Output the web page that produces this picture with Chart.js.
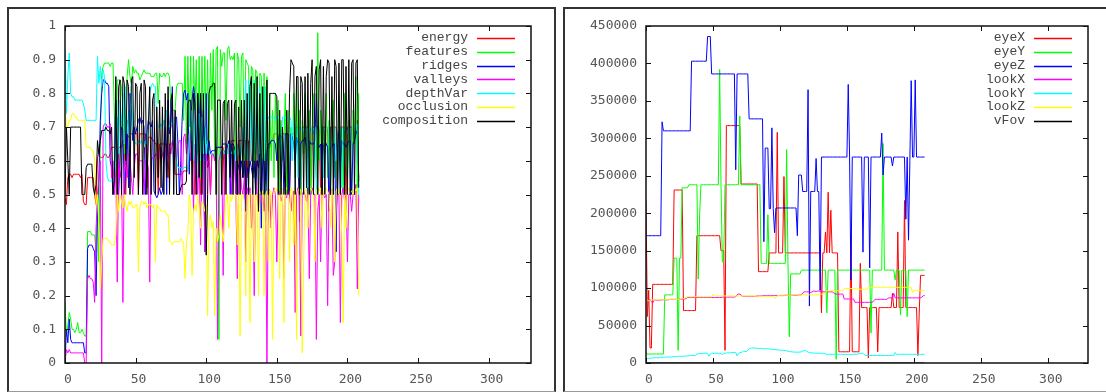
<!DOCTYPE html>
<html>
<head>
<meta charset="utf-8">
<script src="https://cdn.jsdelivr.net/npm/chart.js@4/dist/chart.umd.min.js"></script>
<style>
  html, body { margin: 0; padding: 0; background: #fff; width: 1106px; height: 392px; overflow: hidden; }
  .frame { position: absolute; top: 7px; height: 385px; box-sizing: border-box; border: 2px solid #333; border-bottom: 1px solid #999; }
  #frameL { left: 7px; width: 549px; }
  #frameR { left: 563px; width: 560px; }
  canvas { position: absolute; top: 0; }
  #chartL { left: 0; }
  #chartR { left: 556px; }
</style>
</head>
<body>
<div class="frame" id="frameL"></div>
<div class="frame" id="frameR"></div>
<canvas id="chartL" width="556" height="392"></canvas>
<canvas id="chartR" width="550" height="392"></canvas>
<script>
// left panel: image quality terms
const energy = [0.49,0.47,0.55,0.56,0.56,0.55,0.56,0.56,0.56,0.56,
  0.56,0.55,0.56,0.48,0.47,0.47,0.55,0.55,0.55,0.55,
  0.55,0.5,0.47,0.61,0.62,0.61,0.61,0.61,0.62,0.62,
  0.61,0.61,0.62,0.64,0.64,0.64,0.64,0.5,0.64,0.64,
  0.64,0.66,0.66,0.5,0.67,0.67,0.68,0.68,0.68,0.68,
  0.68,0.68,0.5,0.68,0.68,0.68,0.68,0.68,0.52,0.67,
  0.67,0.67,0.66,0.66,0.65,0.65,0.5,0.65,0.65,0.65,
  0.65,0.65,0.65,0.55,0.65,0.65,0.65,0.65,0.56,0.56,
  0.56,0.56,0.56,0.56,0.57,0.57,0.57,0.57,0.62,0.62,
  0.62,0.62,0.5,0.62,0.63,0.63,0.5,0.63,0.62,0.62,
  0.62,0.62,0.62,0.5,0.62,0.62,0.62,0.62,0.64,0.64,
  0.64,0.64,0.64,0.5,0.64,0.64,0.64,0.64,0.66,0.66,
  0.66,0.66,0.5,0.66,0.66,0.66,0.66,0.66,0.66,0.55,
  0.66,0.66,0.6,0.6,0.6,0.56,0.6,0.6,0.62,0.62,
  0.62,0.62,0.5,0.62,0.64,0.64,0.66,0.66,0.68,0.68,
  0.68,0.68,0.5,0.68,0.68,0.68,0.68,0.68,0.68,0.5,
  0.68,0.68,0.68,0.7,0.7,0.7,0.7,0.5,0.7,0.7,
  0.7,0.7,0.7,0.7,0.5,0.7,0.7,0.7,0.7,0.7,
  0.7,0.5,0.7,0.7,0.7,0.7,0.7,0.5,0.7,0.7,
  0.7,0.7,0.7,0.5,0.7,0.7,0.7,0.7,0.7,0.5,
  0.7,0.7,0.7,0.7,0.7,0.66,0.7,0.72,0.55];
const features = [0.18,0.08,0.11,0.15,0.13,0.1,0.1,0.09,0.1,0.12,
  0.09,0.09,0.1,0.09,0.08,0.08,0.39,0.39,0.39,0.38,
  0.38,0.38,0.33,0.47,0.3,0.66,0.86,0.88,0.89,0.89,
  0.89,0.89,0.88,0.89,0.89,0.73,0.6,0.84,0.84,0.84,
  0.82,0.75,0.62,0.78,0.85,0.9,0.85,0.83,0.88,0.86,
  0.87,0.86,0.86,0.84,0.85,0.86,0.87,0.86,0.86,0.86,
  0.86,0.85,0.85,0.85,0.86,0.86,0.77,0.86,0.85,0.85,
  0.86,0.85,0.86,0.86,0.85,0.76,0.75,0.75,0.75,0.82,
  0.83,0.83,0.83,0.83,0.72,0.91,0.65,0.91,0.7,0.91,
  0.6,0.91,0.75,0.9,0.62,0.91,0.55,0.91,0.7,0.91,
  0.65,0.9,0.63,0.92,0.75,0.93,0.6,0.93,0.94,0.07,
  0.93,0.88,0.92,0.92,0.72,0.93,0.94,0.9,0.91,0.9,
  0.92,0.55,0.92,0.9,0.7,0.91,0.92,0.6,0.9,0.89,
  0.88,0.7,0.88,0.87,0.55,0.87,0.86,0.65,0.86,0.85,
  0.6,0.86,0.5,0.85,0.45,0.8,0.6,0.75,0.55,0.8,
  0.62,0.78,0.5,0.72,0.6,0.65,0.8,0.5,0.75,0.55,
  0.7,0.6,0.8,0.55,0.85,0.6,0.75,0.5,0.72,0.62,
  0.8,0.55,0.65,0.75,0.5,0.7,0.8,0.6,0.55,0.98,
  0.6,0.75,0.5,0.7,0.62,0.8,0.55,0.72,0.5,0.65,
  0.78,0.55,0.62,0.5,0.75,0.6,0.7,0.5,0.8,0.62,
  0.55,0.72,0.6,0.5,0.75,0.65,0.85,0.5,0.8];
const ridges = [0,0.1,0.06,0.13,0.07,0.06,0.06,0.06,0.06,0.06,
  0.06,0.06,0.06,0.06,0.03,0.03,0.34,0.35,0.35,0.35,
  0.34,0.33,0.2,0.45,0.55,0.72,0.8,0.84,0.84,0.83,
  0.83,0.82,0.6,0.58,0.5,0.53,0.78,0.6,0.5,0.62,
  0.7,0.69,0.5,0.58,0.72,0.52,0.8,0.76,0.66,0.7,
  0.68,0.7,0.72,0.73,0.71,0.72,0.7,0.5,0.68,0.72,
  0.71,0.7,0.72,0.51,0.5,0.49,0.5,0.52,0.5,0.51,
  0.62,0.72,0.5,0.78,0.68,0.7,0.82,0.56,0.73,0.73,
  0.65,0.5,0.6,0.73,0.8,0.81,0.78,0.8,0.56,0.72,
  0.78,0.82,0.79,0.55,0.8,0.67,0.8,0.66,0.75,0.33,
  0.8,0.6,0.66,0.62,0.63,0.63,0.63,0.64,0.64,0.64,
  0.64,0.64,0.65,0.65,0.65,0.64,0.66,0.5,0.65,0.65,
  0.64,0.5,0.6,0.58,0.56,0.6,0.55,0.6,0.45,0.58,
  0.56,0.6,0.58,0.55,0.6,0.5,0.6,0.58,0.62,0.4,
  0.6,0.62,0.42,0.63,0.65,0.65,0.66,0.66,0.66,0.65,
  0.6,0.66,0.68,0.67,0.67,0.5,0.68,0.68,0.68,0.5,
  0.68,0.67,0.65,0.6,0.67,0.65,0.42,0.65,0.66,0.66,
  0.67,0.64,0.5,0.66,0.65,0.65,0.65,0.66,0.8,0.64,
  0.64,0.65,0.5,0.64,0.66,0.65,0.64,0.45,0.64,0.64,
  0.65,0.65,0.33,0.64,0.7,0.5,0.66,0.65,0.65,0.64,
  0.65,0.66,0.66,0.5,0.65,0.66,0.68,0.69,0.54];
const valleys = [0,0.04,0.03,0.04,0.03,0.03,0.03,0.03,0.03,0.03,
  0.03,0.03,0.03,0.03,0,0,0.25,0.26,0.25,0.25,
  0.24,0.18,0.4,0.5,0.55,0.6,0,0.7,0.71,0.71,
  0.7,0.7,0.71,0.55,0.6,0.5,0.58,0.24,0.6,0.55,
  0.58,0.18,0.6,0.58,0.55,0.62,0.6,0.55,0.5,0.58,
  0.62,0.62,0.6,0.6,0.6,0.6,0.5,0.6,0.6,0.58,
  0.24,0.6,0.61,0.61,0.62,0.62,0.6,0.62,0.64,0.62,
  0.6,0.64,0.62,0.6,0.64,0.62,0.66,0.63,0.65,0.6,
  0.65,0.66,0.66,0.5,0.67,0.68,0.62,0.68,0.66,0.6,
  0.66,0.45,0.65,0.6,0.5,0.62,0.35,0.6,0.6,0.33,
  0.62,0.58,0.6,0.5,0.62,0.62,0.6,0.62,0.07,0.6,
  0.62,0.63,0.26,0.63,0.62,0.64,0.63,0.62,0.5,0.62,
  0.6,0.5,0.25,0.55,0.6,0.52,0.5,0.55,0.3,0.52,
  0.5,0.52,0.4,0.5,0.2,0.55,0.5,0.45,0.5,0.48,
  0.5,0.45,0.5,0,0.52,0.5,0.4,0.5,0.52,0.5,
  0.3,0.5,0.51,0.48,0.5,0.25,0.5,0.49,0.52,0.5,
  0.45,0.5,0.51,0.15,0.5,0.52,0.5,0.08,0.5,0.51,
  0.5,0.48,0.5,0.25,0.5,0.52,0.5,0.5,0.07,0.45,
  0.5,0.3,0.51,0.5,0.49,0.5,0.17,0.5,0.52,0.5,
  0.26,0.3,0.45,0.5,0.5,0.12,0.5,0.52,0.48,0.5,
  0.3,0.5,0.5,0.45,0.5,0.5,0.53,0.22,0.5];
const depthVar = [0.93,0.74,0.85,0.92,0.8,0.79,0.79,0.78,0.78,0.78,
  0.78,0.78,0.78,0.77,0.75,0.72,0.72,0.72,0.72,0.72,
  0.72,0.72,0.72,0.91,0.83,0.88,0.82,0.87,0.85,0.6,
  0.55,0.54,0.54,0.54,0.54,0.55,0.6,0.73,0.62,0.78,
  0.7,0.8,0.65,0.82,0.68,0.75,0.62,0.82,0.7,0.66,
  0.65,0.65,0.66,0.65,0.66,0.65,0.64,0.66,0.65,0.7,
  0.8,0.82,0.83,0.82,0.82,0.72,0.7,0.7,0.71,0.7,
  0.72,0.7,0.75,0.72,0.7,0.71,0.71,0.72,0.71,0.6,
  0.58,0.58,0.58,0.57,0.58,0.58,0.58,0.57,0.66,0.7,
  0.75,0.6,0.72,0.55,0.68,0.74,0.6,0.73,0.62,0.7,
  0.62,0.66,0.62,0.62,0.62,0.62,0.62,0.62,0.62,0.62,
  0.62,0.6,0.63,0.62,0.64,0.62,0.65,0.63,0.62,0.64,
  0.63,0.6,0.65,0.62,0.6,0.63,0.7,0.62,0.84,0.6,
  0.84,0.6,0.8,0.58,0.84,0.62,0.8,0.6,0.82,0.55,
  0.8,0.6,0.82,0.73,0.73,0.72,0.73,0.73,0.73,0.72,
  0.73,0.73,0.72,0.55,0.73,0.73,0.73,0.72,0.73,0.73,
  0.72,0.6,0.72,0.7,0.7,0.55,0.69,0.7,0.69,0.68,
  0.69,0.7,0.52,0.7,0.69,0.7,0.68,0.7,0.5,0.69,
  0.7,0.69,0.7,0.55,0.69,0.7,0.7,0.68,0.5,0.7,
  0.69,0.7,0.6,0.68,0.7,0.7,0.52,0.7,0.69,0.7,
  0.68,0.7,0.55,0.7,0.7,0.69,0.7,0.71,0.5];
const occlusion = [0.77,0.7,0.7,0.72,0.72,0.74,0.74,0.73,0.73,0.72,
  0.72,0.72,0.72,0.72,0.72,0.64,0.64,0.64,0.64,0.63,
  0.63,0.6,0.47,0.5,0.4,0.22,0.3,0.37,0.37,0.37,
  0.37,0.36,0.36,0.35,0.35,0.35,0.38,0.5,0.45,0.5,
  0.48,0.46,0.5,0.47,0.45,0.48,0.47,0.48,0.46,0.46,
  0.47,0.47,0.27,0.46,0.48,0.48,0.47,0.48,0.46,0.47,
  0.47,0.47,0.46,0.47,0.3,0.47,0.46,0.46,0.45,0.45,
  0.45,0.45,0.44,0.44,0.36,0.36,0.35,0.36,0.36,0.36,
  0.36,0.36,0.37,0.36,0.36,0.25,0.36,0.38,0.5,0.47,
  0.26,0.45,0.47,0.45,0.5,0.46,0.4,0.48,0.47,0.45,
  0.47,0.14,0.42,0.44,0.4,0.42,0.14,0.4,0.36,0.38,
  0.44,0.4,0.36,0.42,0.48,0.5,0.4,0.5,0.48,0.5,
  0.5,0.5,0.35,0.5,0.08,0.5,0.5,0.48,0.2,0.5,
  0.5,0.12,0.5,0.5,0.3,0.5,0.5,0.2,0.5,0.51,
  0.51,0.2,0.5,0.51,0.3,0.51,0.51,0.07,0.51,0.52,
  0.51,0.52,0.25,0.51,0.52,0.12,0.51,0.52,0.52,0.3,
  0.52,0.51,0.35,0.52,0.07,0.51,0.52,0.51,0.03,0.3,
  0.51,0.52,0.4,0.51,0.52,0.51,0.5,0.3,0.51,0.52,
  0.51,0.52,0.4,0.51,0.51,0.52,0.51,0.5,0.4,0.51,
  0.52,0.3,0.51,0.52,0.5,0.5,0.38,0.12,0.51,0.4,
  0.51,0.52,0.51,0.51,0.5,0.52,0.51,0.52,0.2];
const composition = [0.5,0.7,0.6,0.5,0.7,0.7,0.7,0.7,0.7,0.7,
  0.7,0.7,0.5,0.5,0.5,0.58,0.59,0.59,0.59,0.59,
  0.52,0.5,0.53,0.66,0.62,0.66,0.69,0.69,0.69,0.7,
  0.69,0.69,0.68,0.7,0.5,0.55,0.85,0.5,0.82,0.84,
  0.5,0.85,0.83,0.6,0.84,0.82,0.5,0.84,0.85,0.55,
  0.83,0.82,0.5,0.8,0.83,0.5,0.84,0.82,0.5,0.7,
  0.82,0.5,0.78,0.8,0.5,0.76,0.55,0.78,0.52,0.76,
  0.5,0.8,0.55,0.82,0.5,0.78,0.8,0.5,0.75,0.5,
  0.5,0.5,0.52,0.53,0.53,0.53,0.54,0.77,0.78,0.78,
  0.5,0.8,0.77,0.5,0.8,0.55,0.8,0.5,0.8,0.6,
  0.32,0.5,0.8,0.82,0.82,0.83,0.83,0.5,0.78,0.78,
  0.78,0.5,0.77,0.78,0.5,0.77,0.78,0.55,0.78,0.5,
  0.77,0.78,0.5,0.76,0.5,0.78,0.55,0.78,0.5,0.8,
  0.5,0.82,0.85,0.5,0.83,0.5,0.85,0.45,0.8,0.5,
  0.82,0.5,0.55,0.84,0.5,0.8,0.8,0.8,0.8,0.8,
  0.79,0.5,0.75,0.5,0.7,0.6,0.5,0.75,0.5,0.8,
  0.9,0.89,0.88,0.5,0.85,0.85,0.5,0.85,0.83,0.5,
  0.85,0.52,0.86,0.5,0.83,0.9,0.5,0.85,0.88,0.5,
  0.87,0.9,0.5,0.88,0.5,0.85,0.9,0.89,0.5,0.85,
  0.5,0.9,0.88,0.5,0.89,0.5,0.9,0.9,0.5,0.88,
  0.5,0.9,0.5,0.89,0.9,0.5,0.89,0.9,0.52];

// right panel: camera parameters
const eyeX = [217000,62000,97000,20000,20000,105000,105000,105000,105000,105000,
  105000,105000,105000,105000,105000,105000,105000,105000,105000,105000,
  105000,231000,231000,231000,231000,231000,231000,231000,70000,70000,
  70000,70000,70000,70000,70000,70000,70000,70000,170000,170000,
  170000,170000,170000,170000,170000,170000,170000,170000,170000,170000,
  170000,170000,170000,170000,170000,170000,150000,150000,150000,17000,
  317000,317000,317000,317000,317000,317000,317000,317000,317000,317000,
  317000,239000,239000,239000,239000,239000,239000,239000,239000,239000,
  239000,239000,239000,239000,122000,122000,122000,122000,122000,122000,
  122000,122000,147000,147000,147000,147000,147000,147000,308000,147000,
  147000,147000,147000,249000,147000,147000,147000,147000,147000,147000,
  147000,147000,147000,147000,147000,147000,147000,147000,147000,147000,
  147000,147000,147000,147000,147000,147000,147000,147000,147000,147000,
  147000,67000,147000,147000,175000,147000,228000,147000,204000,147000,
  147000,147000,147000,147000,15000,15000,15000,15000,15000,15000,
  15000,15000,15000,173000,15000,15000,15000,15000,15000,15000,
  133000,74000,74000,74000,74000,74000,7000,74000,74000,74000,
  74000,74000,74000,15000,74000,74000,74000,74000,74000,74000,
  74000,74000,74000,74000,93000,74000,74000,74000,175000,74000,
  74000,74000,74000,217000,74000,74000,74000,74000,74000,74000,
  74000,74000,74000,10000,68000,117000,117000,117000,117000];
const eyeY = [12000,12000,12000,12000,12000,12000,12000,12000,12000,12000,
  12000,12000,12000,12000,91000,91000,91000,91000,91000,91000,
  91000,140000,140000,140000,17000,140000,140000,234000,234000,234000,
  234000,234000,238000,238000,238000,238000,238000,238000,238000,112000,
  195000,238000,238000,238000,238000,238000,238000,238000,238000,238000,
  238000,238000,238000,238000,238000,392000,238000,135000,135000,238000,
  238000,238000,238000,238000,238000,238000,238000,238000,238000,238000,
  330000,238000,238000,238000,238000,238000,238000,238000,238000,238000,
  238000,238000,238000,238000,238000,238000,133000,133000,133000,133000,
  133000,198000,133000,133000,133000,133000,133000,133000,133000,133000,
  133000,133000,133000,133000,133000,285000,133000,35000,119000,119000,
  119000,119000,119000,119000,119000,119000,124000,124000,124000,124000,
  124000,124000,124000,124000,124000,124000,124000,124000,124000,124000,
  124000,124000,124000,124000,124000,67000,124000,124000,124000,124000,
  124000,124000,5000,124000,124000,124000,124000,124000,124000,124000,
  124000,124000,124000,124000,124000,124000,124000,124000,124000,124000,
  124000,124000,124000,124000,124000,124000,124000,124000,40000,124000,
  124000,124000,124000,124000,124000,124000,124000,293000,124000,124000,
  124000,124000,124000,124000,124000,124000,111000,124000,124000,124000,
  64000,124000,124000,124000,124000,62000,124000,124000,124000,124000,
  124000,124000,124000,124000,124000,124000,124000,124000,124000];
const eyeZ = [170000,170000,170000,170000,170000,170000,170000,170000,170000,170000,
  170000,170000,322000,310000,310000,310000,310000,310000,310000,310000,
  310000,310000,310000,310000,310000,310000,310000,310000,310000,310000,
  310000,310000,310000,310000,403000,403000,403000,403000,403000,403000,
  403000,403000,403000,403000,403000,403000,436000,436000,436000,386000,
  386000,386000,386000,386000,386000,386000,386000,386000,386000,386000,
  386000,386000,386000,386000,386000,386000,386000,258000,386000,386000,
  386000,386000,386000,386000,386000,386000,386000,326000,326000,326000,
  326000,326000,326000,326000,326000,326000,326000,326000,162000,287000,
  287000,287000,206000,206000,314000,206000,174000,207000,207000,207000,
  207000,207000,207000,207000,207000,207000,207000,207000,207000,207000,
  207000,207000,207000,170000,251000,251000,251000,229000,229000,229000,
  229000,365000,76000,229000,229000,229000,229000,273000,229000,229000,
  97000,275000,275000,275000,275000,275000,275000,275000,275000,275000,
  275000,275000,275000,275000,275000,275000,275000,275000,275000,275000,
  275000,372000,275000,111000,275000,275000,275000,275000,275000,275000,
  275000,275000,148000,275000,275000,275000,275000,127000,275000,275000,
  275000,275000,275000,275000,275000,275000,307000,251000,275000,275000,
  275000,275000,275000,275000,263000,275000,275000,275000,275000,275000,
  275000,275000,275000,275000,192000,275000,164000,270000,377000,275000,
  275000,378000,275000,275000,275000,275000,275000,275000,275000];
const lookX = [85000,84000,84000,85000,82000,80000,84000,84000,84000,84000,
  84000,84000,84500,84500,84500,84000,84500,84500,85000,85000,
  85000,85000,85000,85000,85000,85000,85500,85500,85500,85500,
  86000,87500,87500,87500,87500,87500,87500,87500,87500,87500,
  87500,87500,87500,87500,87500,87500,87500,87500,87500,87500,
  87500,87500,87500,87500,87500,87500,87500,88000,88000,88000,
  88000,88000,88000,88000,88000,88000,88000,88500,91000,92000,
  92000,91000,89000,89000,89000,89000,89000,89000,89000,89000,
  89000,89000,89000,89500,89500,89500,89500,90000,90000,90000,
  90000,90000,90000,90000,90000,90000,90000,90000,90000,90000,
  90000,90000,90000,90000,90500,90500,90500,90500,90500,90500,
  90500,90500,90500,90500,91000,91000,91000,93500,95000,95000,
  95000,95000,95000,94000,95000,96000,96000,95500,96000,96000,
  96000,95500,95000,95000,95000,95000,95000,95000,95000,95000,
  94000,92000,92000,92000,92000,92000,92000,92000,85500,85500,
  85500,85500,85500,85500,85500,85500,81000,81000,81000,81000,
  81000,81000,81000,81000,81000,81000,81000,81000,81000,81000,
  83000,85000,85000,85000,85000,85000,85000,85000,85000,85000,
  85000,87000,87000,87000,87000,93000,87000,87000,87000,87000,
  87000,87000,87000,87000,87000,87000,87000,87000,87000,87000,
  87000,87000,87000,87000,87000,87000,88000,90000,90000];
const lookY = [6000,6000,6000,6500,6500,6500,7000,7000,7000,7000,
  7000,7500,7500,7500,7500,8000,8000,8000,8000,8000,
  8500,8500,8500,8500,9000,9000,9000,9000,9000,9000,
  9500,9500,9500,10000,10000,10000,10000,10000,12000,12500,
  12500,12500,12500,13000,13000,13000,13000,9000,12000,13000,
  13000,13000,13000,13000,13000,13000,13000,11000,13000,13000,
  13500,13500,13500,13500,14000,14000,14000,14000,9500,12000,
  14000,14000,15000,16000,15500,15000,17000,19000,19500,20000,
  20000,20000,20000,19500,19500,19500,19500,19000,19000,19000,
  19000,19000,18500,18500,18000,18000,18000,18000,17500,17500,
  17000,17000,17000,17000,16500,16500,15500,15500,15000,15000,
  14500,14500,14500,14500,14500,14500,15000,16000,16500,16500,
  16000,14500,14000,13500,13500,13500,13000,13000,13000,13000,
  13000,13000,13000,13000,12000,11600,11600,11600,11600,11600,
  11600,11600,11600,11600,11600,11600,11600,11600,11600,11600,
  11600,11600,11600,11600,11600,11600,11600,11600,11600,13000,
  13000,13000,13000,11000,10000,10000,10000,10000,10000,10000,
  10000,10000,10000,10000,10000,10000,10000,10000,10000,10000,
  10000,10000,10000,10000,10000,10000,14000,11600,11600,11600,
  11600,11600,11600,11600,11600,11600,11600,11600,11600,11600,
  11600,11600,11600,11600,11600,11600,11600,11600,11600];
const lookZ = [84000,84000,83000,84000,84000,84000,84000,84000,84500,84500,
  84500,84500,84500,84500,84500,84500,84500,85000,85000,85000,
  85000,85000,85000,85000,85000,85000,86000,86000,86000,86000,
  88500,88500,88500,88500,88500,88500,88500,88500,88500,88500,
  88500,88500,88500,88500,88500,88500,88500,88500,88500,88500,
  92000,89500,89500,89500,89500,89500,89500,89500,89500,89500,
  89500,89500,89500,89500,89500,89500,89500,89500,89500,89500,
  89500,89500,89500,89500,89500,89500,89500,89500,89500,89500,
  89500,89500,89500,87500,89000,89000,89000,89000,89000,89000,
  89000,89000,89000,89000,89000,89000,86000,87000,90000,90000,
  90500,90500,90500,90500,90500,90500,90500,90500,90500,90500,
  91000,91000,91000,91000,91000,91000,91000,91000,91000,91000,
  91000,91000,91000,91000,91000,91000,91000,91000,91000,91000,
  92000,92000,92000,92000,93000,96500,96500,96500,96500,96500,
  96500,96500,96500,96500,96500,96500,96500,96500,99500,99500,
  99500,99500,99500,99500,99500,99500,99500,99500,98500,98500,
  98500,98500,98500,98500,98500,98500,101000,101000,101000,101000,
  101000,101000,101000,101000,101000,101000,101000,101000,101000,101000,
  101000,101000,101000,101000,101000,101000,101000,101000,101000,101000,
  101000,101000,101000,101000,101000,101000,101000,101000,101000,94000,
  97000,97000,97000,97000,97000,97000,97000,97000,97000];
const vFov = [1,1,1,1,1,1,1,1,1,1, 1,1,1,1,1,1,1,1,1,1, 1,1,1,1,1,1,1,1,1,1,
  1,1,1,1,1,1,1,1,1,1, 1,1,1,1,1,1,1,1,1,1, 1,1,1,1,1,1,1,1,1,1,
  1,1,1,1,1,1,1,1,1,1, 1,1,1,1,1,1,1,1,1,1, 1,1,1,1,1,1,1,1,1,1,
  1,1,1,1,1,1,1,1,1,1, 1,1,1,1,1,1,1,1,1,1, 1,1,1,1,1,1,1,1,1,1,
  1,1,1,1,1,1,1,1,1,1, 1,1,1,1,1,1,1,1,1,1, 1,1,1,1,1,1,1,1,1,1,
  1,1,1,1,1,1,1,1,1,1, 1,1,1,1,1,1,1,1,1,1, 1,1,1,1,1,1,1,1,1,1,
  1,1,1,1,1,1,1,1,1,1, 1,1,1,1,1,1,1,1,1,1, 1,1,1,1,1,1,1,1,1];

const leftNames = ['energy', 'features', 'ridges', 'valleys', 'depthVar', 'occlusion', 'composition'];
const leftSeries = [energy, features, ridges, valleys, depthVar, occlusion, composition];
const rightNames = ['eyeX', 'eyeY', 'eyeZ', 'lookX', 'lookY', 'lookZ', 'vFov'];
const rightSeries = [eyeX, eyeY, eyeZ, lookX, lookY, lookZ, vFov];
const xTicks = [0, 50, 100, 150, 200, 250, 300];
const lineColors = ['#ff0000', '#00ff00', '#0000ff', '#ff00ff', '#00ffff', '#ffff00', '#000000'];

const tickFont = { family: '"DejaVu Sans Mono", monospace', size: 13 };

// gnuplot style box: full border, inward ticks on all sides, key in the top right
const gnuBox = {
    id: 'gnuBox',
    afterDatasetsDraw(chart) {
        const { ctx, chartArea: a, scales: { x, y } } = chart;
        ctx.save();
        ctx.strokeStyle = '#111';
        ctx.lineWidth = 1.5;
        ctx.strokeRect(a.left, a.top, a.right - a.left, a.bottom - a.top);

        ctx.lineWidth = 1;
        ctx.beginPath();
        x.ticks.forEach(t => {
            const px = Math.round(x.getPixelForValue(t.value)) + 0.5;
            ctx.moveTo(px, a.bottom); ctx.lineTo(px, a.bottom - 5);
            ctx.moveTo(px, a.top); ctx.lineTo(px, a.top + 5);
        });
        y.ticks.forEach(t => {
            const py = Math.round(y.getPixelForValue(t.value)) + 0.5;
            ctx.moveTo(a.left, py); ctx.lineTo(a.left + 5, py);
            ctx.moveTo(a.right, py); ctx.lineTo(a.right - 5, py);
        });
        ctx.stroke();

        ctx.font = '13px "Liberation Mono", monospace';
        ctx.textAlign = 'right';
        ctx.textBaseline = 'middle';
        chart.data.datasets.forEach((ds, k) => {
            const ky = a.top + 12 + k * 13.8;
            ctx.fillStyle = '#444';
            ctx.fillText(ds.label, a.right - 63, ky);
            ctx.strokeStyle = ds.borderColor;
            ctx.lineWidth = 1.5;
            ctx.beginPath();
            ctx.moveTo(a.right - 54, Math.round(ky) + 0.5);
            ctx.lineTo(a.right - 16, Math.round(ky) + 0.5);
            ctx.stroke();
        });
        ctx.restore();
    }
};

function makePanel(canvasId, names, series, yMax, yStep, yWidth, padRight, yFormat) {
    const datasets = names.map((name, k) => ({
        label: name,
        data: series[k].map((v, i) => ({ x: i, y: v })),
        borderColor: lineColors[k],
        borderWidth: 1,
        pointRadius: 0,
        tension: 0,
        fill: false,
        order: -k
    }));

    return new Chart(document.getElementById(canvasId), {
        type: 'line',
        data: { datasets },
        options: {
            responsive: false,
            animation: false,
            events: [],
            layout: { padding: { left: 0, right: padRight, top: 26, bottom: 0 } },
            plugins: { legend: { display: false }, tooltip: { enabled: false } },
            scales: {
                x: {
                    type: 'linear',
                    min: 0,
                    max: 330,
                    afterBuildTicks: s => { s.ticks = xTicks.map(v => ({ value: v })); },
                    afterFit: s => { s.height = 29; },
                    grid: { display: false, drawTicks: false },
                    border: { display: false },
                    ticks: { font: tickFont, color: '#555', padding: 9, labelOffset: 3, maxRotation: 0, callback: v => String(v) }
                },
                y: {
                    min: 0,
                    max: yMax,
                    afterFit: s => { s.width = yWidth; },
                    grid: { display: false, drawTicks: false },
                    border: { display: false },
                    ticks: { stepSize: yStep, font: tickFont, color: '#555', padding: 9, callback: yFormat }
                }
            }
        },
        plugins: [gnuBox]
    });
}

makePanel('chartL', leftNames, leftSeries, 1, 0.1, 65, 25, v => String(+v.toFixed(1)));
makePanel('chartR', rightNames, rightSeries, 450000, 50000, 90, 18, v => String(v));
</script>
</body>
</html>
